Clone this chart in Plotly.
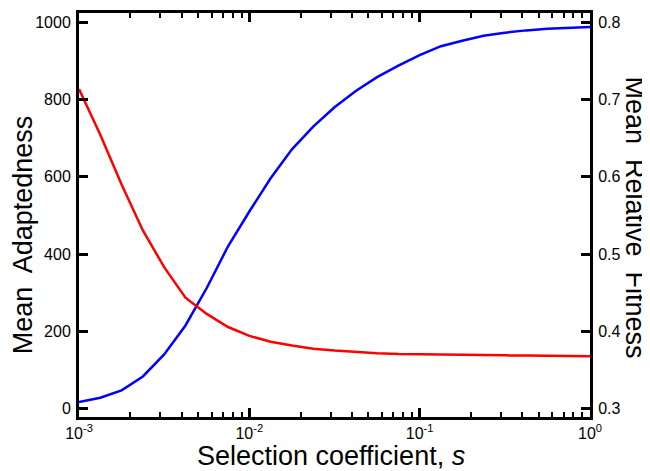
import plotly.graph_objects as go

# Selection coefficient values (log-spaced, 25 points from 1e-3 to 1)
log_s = [-3 + 0.125 * k for k in range(25)]
s_values = [10 ** v for v in log_s]

# Mean adaptedness (left axis, blue)
adaptedness = [17, 28, 47, 83, 140, 215, 312, 420, 510, 596, 671, 730, 780,
               822, 858, 888, 915, 938, 952, 965, 973, 979, 983, 986, 988]

# Mean relative fitness (right axis, red)
fitness = [0.7135, 0.6545, 0.590, 0.5305, 0.483, 0.4435, 0.4225, 0.4055,
           0.394, 0.3865, 0.3815, 0.3775, 0.375, 0.373, 0.3715, 0.3705,
           0.370, 0.3695, 0.369, 0.369, 0.3688, 0.3685, 0.368, 0.3678, 0.3675]

left_ticks = [0, 200, 400, 600, 800, 1000]
right_ticks = [0.3, 0.4, 0.5, 0.6, 0.7, 0.8]
x_major = [1e-3, 1e-2, 1e-1, 1e0]
x_major_text = ["10<sup>-3</sup>", "10<sup>-2</sup>", "10<sup>-1</sup>", "10<sup>0</sup>"]
x_minor = [m * d for d in [1e-3, 1e-2, 1e-1] for m in range(2, 10)]

FONT = "Liberation Sans, Arial, Helvetica, sans-serif"

# page has an 8px body margin; figure size compensates
OFF = 8
W, H = 650 - OFF, 471 - OFF
L, R, T, B = 79 - OFF, 60, 10 - OFF, 54
pw = W - L - R
ph = H - T - B


def px_to_paper(x, y):
    return (x - OFF - L) / pw, 1 - (y - OFF - T) / ph


fig = go.Figure()
fig.add_trace(go.Scatter(x=s_values, y=adaptedness, mode="lines",
                         line=dict(color="#0000ff", width=2.5),
                         xaxis="x", yaxis="y"))
fig.add_trace(go.Scatter(x=s_values, y=fitness, mode="lines",
                         line=dict(color="#ff0000", width=2.5),
                         xaxis="x", yaxis="y2"))
# transparent helper trace so that the major-tick x axis is drawn
fig.add_trace(go.Scatter(x=s_values, y=adaptedness, mode="markers",
                         marker=dict(opacity=0, size=1), hoverinfo="skip",
                         xaxis="x2", yaxis="y"))

ax_l = px_to_paper(23, 234)
ax_r = px_to_paper(635, 216)
ax_b = px_to_paper(331, 456)

fig.update_layout(
    width=W, height=H,
    margin=dict(l=L, r=R, t=T, b=B),
    paper_bgcolor="white", plot_bgcolor="white",
    showlegend=False,
    font=dict(family=FONT, size=16, color="black"),
    # minor ticks (no labels)
    xaxis=dict(
        type="log", range=[-3, 0],
        tickvals=x_minor, showticklabels=False,
        ticks="inside", ticklen=5, tickwidth=2, tickcolor="black",
        showline=True, linewidth=3, linecolor="black", mirror="ticks",
        showgrid=False, zeroline=False,
    ),
    # major ticks with labels
    xaxis2=dict(
        type="log", range=[-3, 0], overlaying="x", side="bottom",
        anchor="y",
        tickvals=x_major, ticktext=x_major_text,
        ticks="inside", ticklen=9, tickwidth=2.5, tickcolor="black",
        showline=True, linewidth=3, linecolor="black", mirror="ticks",
        showgrid=False, zeroline=False,
        tickfont=dict(size=16),
    ),
    yaxis=dict(
        range=[-22, 1024], tickvals=left_ticks,
        ticks="inside", ticklen=9, tickwidth=2.5, tickcolor="black",
        showline=True, linewidth=3, linecolor="black",
        showgrid=False, zeroline=False, ticklabelstandoff=2,
        tickfont=dict(size=16),
    ),
    yaxis2=dict(
        overlaying="y", side="right",
        range=[0.289, 0.812], tickvals=right_ticks,
        tickformat=".1f",
        ticks="inside", ticklen=9, tickwidth=2.5, tickcolor="black",
        showline=True, linewidth=3, linecolor="black",
        showgrid=False, zeroline=False, ticklabelstandoff=2,
        tickfont=dict(size=16),
    ),
    annotations=[
        dict(text="Mean  Adaptedness", x=ax_l[0], y=ax_l[1], xref="paper",
             yref="paper", showarrow=False, textangle=-90,
             font=dict(size=27), xanchor="center", yanchor="middle"),
        dict(text="Mean  Relative  Fitness", x=ax_r[0], y=ax_r[1],
             xref="paper", yref="paper", showarrow=False, textangle=90,
             font=dict(size=27), xanchor="center", yanchor="middle"),
        dict(text="Selection coefficient, <i>s</i>", x=ax_b[0], y=ax_b[1],
             xref="paper", yref="paper", showarrow=False, font=dict(size=27),
             xanchor="center", yanchor="middle"),
    ],
)

fig.write_html("out.html")
